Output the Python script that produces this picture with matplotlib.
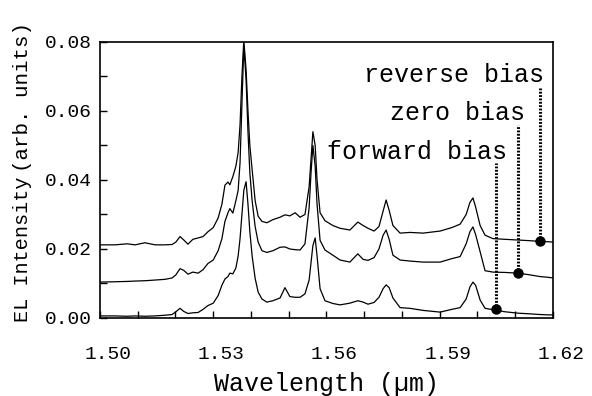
import matplotlib
matplotlib.use("Agg")
import matplotlib.pyplot as plt
import matplotlib.transforms as mtransforms
from matplotlib.ticker import MultipleLocator

# wavelength grid (um)
wavelength = [
    1.5000, 1.5040, 1.5072, 1.5093, 1.5119, 1.5146, 1.5172, 1.5191, 1.5201, 1.5212,
    1.5222, 1.5233, 1.5246, 1.5260, 1.5273, 1.5286, 1.5300, 1.5313, 1.5323, 1.5331,
    1.5339, 1.5344, 1.5352, 1.5360, 1.5366, 1.5371, 1.5376, 1.5381, 1.5387, 1.5392,
    1.5397, 1.5403, 1.5411, 1.5419, 1.5429, 1.5442, 1.5458, 1.5477, 1.5490, 1.5503,
    1.5517, 1.5530, 1.5543, 1.5554, 1.5559, 1.5564, 1.5570, 1.5575, 1.5583, 1.5596,
    1.5617, 1.5636, 1.5662, 1.5683, 1.5697, 1.5710, 1.5726, 1.5739, 1.5750, 1.5758,
    1.5766, 1.5776, 1.5795, 1.5821, 1.5856, 1.5901, 1.5932, 1.5954, 1.5970, 1.5980,
    1.5988, 1.5995, 1.6007, 1.6020, 1.6041, 1.6073, 1.6107, 1.6139, 1.6166, 1.6187,
    1.6200,
]

reverse_bias = [
    0.0212, 0.0212, 0.0215, 0.0212, 0.0218, 0.0212, 0.0212, 0.0213, 0.0220, 0.0236,
    0.0226, 0.0214, 0.0228, 0.0232, 0.0236, 0.0250, 0.0262, 0.0290, 0.0330, 0.0385,
    0.0394, 0.0386, 0.0410, 0.0440, 0.0480, 0.0560, 0.0700, 0.0805, 0.0720, 0.0600,
    0.0500, 0.0430, 0.0340, 0.0295, 0.0280, 0.0276, 0.0285, 0.0292, 0.0299, 0.0296,
    0.0305, 0.0292, 0.0300, 0.0380, 0.0460, 0.0540, 0.0500, 0.0400, 0.0305, 0.0282,
    0.0268, 0.0260, 0.0255, 0.0278, 0.0268, 0.0260, 0.0252, 0.0265, 0.0310, 0.0342,
    0.0312, 0.0268, 0.0246, 0.0248, 0.0246, 0.0252, 0.0262, 0.0272, 0.0300, 0.0335,
    0.0348, 0.0322, 0.0268, 0.0240, 0.0230, 0.0228, 0.0226, 0.0224, 0.0222, 0.0221,
    0.0220,
]

zero_bias = [
    0.0104, 0.0105, 0.0106, 0.0107, 0.0108, 0.0110, 0.0112, 0.0116, 0.0125, 0.0143,
    0.0138, 0.0127, 0.0133, 0.0130, 0.0140, 0.0158, 0.0168, 0.0195, 0.0230, 0.0280,
    0.0305, 0.0317, 0.0304, 0.0340, 0.0370, 0.0450, 0.0620, 0.0790, 0.0690, 0.0540,
    0.0420, 0.0340, 0.0265, 0.0220, 0.0195, 0.0190, 0.0195, 0.0205, 0.0206, 0.0200,
    0.0198, 0.0197, 0.0215, 0.0320, 0.0420, 0.0500, 0.0440, 0.0330, 0.0225, 0.0197,
    0.0182, 0.0168, 0.0162, 0.0186, 0.0170, 0.0167, 0.0175, 0.0200, 0.0240, 0.0255,
    0.0228, 0.0182, 0.0168, 0.0165, 0.0162, 0.0162, 0.0172, 0.0178, 0.0215, 0.0250,
    0.0264, 0.0242, 0.0192, 0.0137, 0.0133, 0.0132, 0.0130, 0.0125, 0.0120, 0.0118,
    0.0116,
]

forward_bias = [
    0.0006, 0.0006, 0.0005, 0.0006, 0.0005, 0.0006, 0.0008, 0.0010, 0.0018, 0.0028,
    0.0019, 0.0013, 0.0015, 0.0016, 0.0025, 0.0036, 0.0043, 0.0065, 0.0095, 0.0113,
    0.0120, 0.0130, 0.0128, 0.0145, 0.0180, 0.0230, 0.0300, 0.0370, 0.0395, 0.0330,
    0.0250, 0.0180, 0.0115, 0.0075, 0.0055, 0.0046, 0.0050, 0.0058, 0.0088, 0.0062,
    0.0060, 0.0060, 0.0070, 0.0110, 0.0160, 0.0210, 0.0232, 0.0180, 0.0085, 0.0050,
    0.0042, 0.0038, 0.0043, 0.0050, 0.0046, 0.0040, 0.0045, 0.0060, 0.0085, 0.0096,
    0.0088, 0.0058, 0.0030, 0.0028, 0.0022, 0.0017, 0.0025, 0.0030, 0.0055, 0.0090,
    0.0104, 0.0095, 0.0052, 0.0028, 0.0024, 0.0018, 0.0014, 0.0012, 0.0010, 0.0009,
    0.0009,
]

labels = ["forward bias", "zero bias", "reverse bias"]
marker_x = [1.6050, 1.6107, 1.6166]
marker_y = [0.0026, 0.0130, 0.0222]
pointer_top = [0.0450, 0.0560, 0.0667]
label_x = [1.6078, 1.6126, 1.6177]
label_y = [0.0481, 0.0594, 0.0704]

x_ticks = [1.50, 1.53, 1.56, 1.59, 1.62]
y_ticks = [0.00, 0.02, 0.04, 0.06, 0.08]

font = ["Liberation Mono", "DejaVu Sans Mono"]
plt.rcParams["font.family"] = font

fig = plt.figure(figsize=(5.92, 3.96), dpi=100, facecolor="white")
ax = fig.add_axes([0.1689, 0.197, 0.7652, 0.697])

for series in (forward_bias, zero_bias, reverse_bias):
    ax.plot(wavelength, series, color="black", linewidth=0.9)

for mx, my, top in zip(marker_x, marker_y, pointer_top):
    ax.plot([mx, mx], [my, top], color="black", linewidth=2.2,
            linestyle=(0, (0.6, 0.5)), solid_capstyle="butt")
    ax.plot(mx, my, "o", color="black", markersize=6.5)

for lx, ly, text in zip(label_x, label_y, labels):
    ax.text(lx, ly, text, ha="right", va="center", fontsize=18)

ax.set_xlim(1.50, 1.62)
ax.set_ylim(0.0, 0.08)
ax.set_xticks(x_ticks)
ax.set_xticklabels([f"{v:.2f}" for v in x_ticks])
ax.set_yticks(y_ticks)
ax.set_yticklabels([f"{v:.2f}" for v in y_ticks])
ax.xaxis.set_minor_locator(MultipleLocator(0.01))
ax.yaxis.set_minor_locator(MultipleLocator(0.01))
ax.tick_params(which="both", direction="in", length=5, width=1.0,
               labelsize=14, top=False, right=False)
ax.tick_params(axis="x", pad=20)
ax.tick_params(axis="y", pad=6)

shift = mtransforms.ScaledTranslation(8 / 100, 0, fig.dpi_scale_trans)
for lbl in ax.get_xticklabels():
    lbl.set_transform(lbl.get_transform() + shift)

for spine in ax.spines.values():
    spine.set_linewidth(1.2)
    spine.set_color("black")

ax.set_xlabel("Wavelength (\u00b5m)", fontsize=18, labelpad=7)

# y label in two parts, anchored at the start of each string
fig.text(22 / 592, 74 / 396, "EL Intensity", rotation=90, rotation_mode="anchor",
         ha="left", va="center", fontsize=14.5)
fig.text(23 / 592, 224 / 396, "(arb. units)", rotation=90, rotation_mode="anchor",
         ha="left", va="center", fontsize=15)

fig.savefig("out.png", dpi=100, facecolor="white")
